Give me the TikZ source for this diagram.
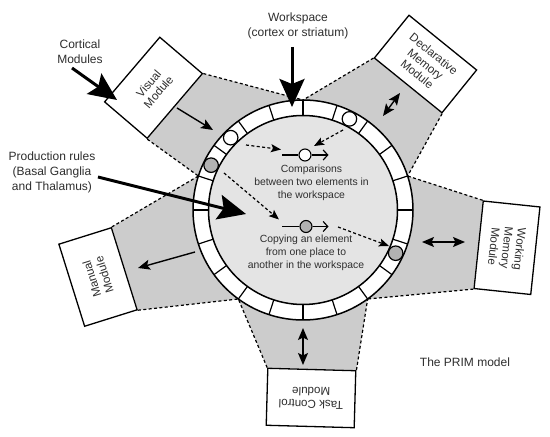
\documentclass[tikz,border=0pt]{standalone}
\usepackage{fontspec}
\setmainfont{Liberation Sans}
\usetikzlibrary{arrows.meta,backgrounds}
\definecolor{wedgegray}{gray}{0.80}
\definecolor{diskgray}{gray}{0.895}
\definecolor{dotgray}{gray}{0.70}
\definecolor{txt}{gray}{0.18}
\begin{document}
\begin{tikzpicture}[x=1pt,y=1pt,
  modbox/.style={draw=black, line width=1.3pt, fill=white, inner sep=0pt, align=center,
    font=\fontsize{11.6}{13}\selectfont, text=txt},
  lbl/.style={align=center, inner sep=0pt, font=\fontsize{12}{15}\selectfont, text=txt},
  innertxt/.style={align=center, inner sep=0pt, font=\fontsize{10.4}{12.7}\selectfont, text=txt},
  wedge/.style={fill=wedgegray},
  wedgeline/.style={line width=1.2pt, dash pattern=on 3pt off 2.4pt},
  elem/.style={circle, draw=black, line width=1.2pt, minimum size=14.5pt, inner sep=0pt},
  symcirc/.style={circle, draw=black, line width=1.1pt, minimum size=12pt, inner sep=0pt},
  bigarrow/.style={line width=3pt, -{Stealth[length=28pt,width=25pt,inset=5pt]}},
  medarrow/.style={line width=1.4pt, -{Stealth[length=12pt,width=10pt,inset=2.5pt]}},
  dblarrow/.style={line width=1.4pt, {Stealth[length=12pt,width=10pt,inset=2.5pt]}-{Stealth[length=12pt,width=10pt,inset=2.5pt]}},
  dasharrow/.style={line width=1.2pt, dash pattern=on 3pt off 2.4pt, -{Stealth[length=10pt,width=8pt,inset=2pt]}},
  symline/.style={line width=1.2pt},
  symarrow/.style={line width=1.2pt, -{Straight Barb[length=4.5pt,width=10pt]}}
]
\useasboundingbox (0,0) rectangle (550,437);

% centre of the workspace
\coordinate (O) at (303,227);
\foreach \a in {18,90,162,234,306} {\path (O) ++(\a:110) coordinate (r\a);}

% module boxes
\node[modbox, minimum width=85pt, minimum height=56pt, rotate=49.5] (vis) at (153.5,349.25) {Visual\\Module};
\node[modbox, minimum width=87pt, minimum height=55pt, rotate=-39] (dec) at (425.5,373) {Declarative\\Memory\\Module};
\node[modbox, minimum width=88pt, minimum height=57pt, rotate=-96] (wm) at (507,189.25) {Working\\Memory\\Module};
\node[modbox, minimum width=88pt, minimum height=57pt, rotate=178.4] (task) at (311,39) {Task Control\\Module};
\node[modbox, minimum width=86pt, minimum height=55pt, rotate=107.4] (man) at (98,160) {Manual\\Module};

% background and grey wedges
\begin{pgfonlayer}{background}
\fill[white] (0,0) rectangle (550,437);
\fill[wedge] (vis.south west) -- (r162) arc[start angle=162, end angle=90, radius=110] -- (vis.south east) -- cycle;
\fill[wedge] (dec.south west) -- (r90) arc[start angle=90, end angle=18, radius=110] -- (dec.south east) -- cycle;
\fill[wedge] (wm.south west) -- (r18) arc[start angle=18, end angle=-54, radius=110] -- (wm.south east) -- cycle;
\fill[wedge] (task.south west) -- (r306) arc[start angle=-54, end angle=-126, radius=110] -- (task.south east) -- cycle;
\fill[wedge] (man.south west) -- (r234) arc[start angle=234, end angle=162, radius=110] -- (man.south east) -- cycle;
\end{pgfonlayer}

% dashed wedge borders
\draw[wedgeline] (vis.south west) -- (r162);
\draw[wedgeline] (vis.south east) -- (r90);
\draw[wedgeline] (dec.south west) -- (r90);
\draw[wedgeline] (dec.south east) -- (r18);
\draw[wedgeline] (wm.south west) -- (r18);
\draw[wedgeline] (wm.south east) -- (r306);
\draw[wedgeline] (task.south west) -- (r306);
\draw[wedgeline] (task.south east) -- (r234);
\draw[wedgeline] (man.south west) -- (r234);
\draw[wedgeline] (man.south east) -- (r162);

% ring
\fill[white] (O) circle[radius=110];
\foreach \a in {0,18,...,342} {\draw[line width=1.2pt] (O) ++(\a:94.5) -- ++(\a:15.5);}
\draw[line width=1.5pt] (O) circle[radius=110];
\draw[line width=1.5pt, fill=diskgray] (O) circle[radius=94.5];

% elements in the ring
\path (O) ++(63:102.25) node[elem, fill=white] (e1) {};
\path (O) ++(135:102.25) node[elem, fill=white] (e2) {};
\path (O) ++(154:102.25) node[elem, fill=dotgray] (e3) {};
\path (O) ++(335:102.25) node[elem, fill=dotgray] (e4) {};

% comparison symbol
\coordinate (c1s) at (282,282);
\coordinate (c1e) at (328.5,282);
\node[symcirc, fill=white] (c1) at (305,282) {};
\draw[symline] (c1s) -- (c1);
\draw[symarrow] (c1) -- (c1e);
\node[innertxt] (comp) at (311.5,254) {Comparisons\\between two elements in\\the workspace};

% copying symbol
\coordinate (c2s) at (282,210.5);
\coordinate (c2e) at (328.5,210.5);
\node[symcirc, fill=dotgray] (c2) at (306,210.5) {};
\draw[symline] (c2s) -- (c2);
\draw[symarrow] (c2) -- (c2e);
\node[innertxt] (copy) at (306,184) {Copying an element\\from one place to\\another in the workspace};

% dashed arrows
\coordinate (d1a) at (246,292); \coordinate (d1b) at (281,287.5);
\coordinate (d2a) at (343,307); \coordinate (d2b) at (314,291);
\coordinate (d3a) at (224,264); \coordinate (d3b) at (279,217.5);
\coordinate (d4a) at (338,210); \coordinate (d4b) at (389,191);
\draw[dasharrow] (d1a) -- (d1b);
\draw[dasharrow] (d2a) -- (d2b);
\draw[dasharrow] (d3a) -- (d3b);
\draw[dasharrow] (d4a) -- (d4b);

% module arrows
\coordinate (va) at (177,329); \coordinate (vb) at (213,307);
\coordinate (da) at (383,321); \coordinate (db) at (400,344);
\coordinate (wa) at (422,195); \coordinate (wb) at (465,195);
\coordinate (ta) at (303,109); \coordinate (tb) at (303,72);
\coordinate (ma) at (195,185); \coordinate (mb) at (138,169);
\draw[medarrow] (va) -- (vb);
\draw[dblarrow] (da) -- (db);
\draw[dblarrow] (wa) -- (wb);
\draw[dblarrow] (ta) -- (tb);
\draw[medarrow] (ma) -- (mb);

% labels
\node[lbl] (cort) at (80,385) {Cortical\\Modules};
\node[lbl] (work) at (298,411) {Workspace\\(cortex or striatum)};
\node[lbl] (prod) at (52,265) {Production rules\\(Basal Ganglia\\and Thalamus)};
\node[lbl] (prim) at (465,75) {The PRIM model};

% big arrows
\coordinate (ca) at (72,369); \coordinate (cb) at (117,337);
\coordinate (wsa) at (292,390); \coordinate (wsb) at (292,330);
\coordinate (pa) at (98,260); \coordinate (pb) at (246,223);
\draw[bigarrow] (ca) -- (cb);
\draw[bigarrow] (wsa) -- (wsb);
\draw[bigarrow] (pa) -- (pb);
\end{tikzpicture}
\end{document}
